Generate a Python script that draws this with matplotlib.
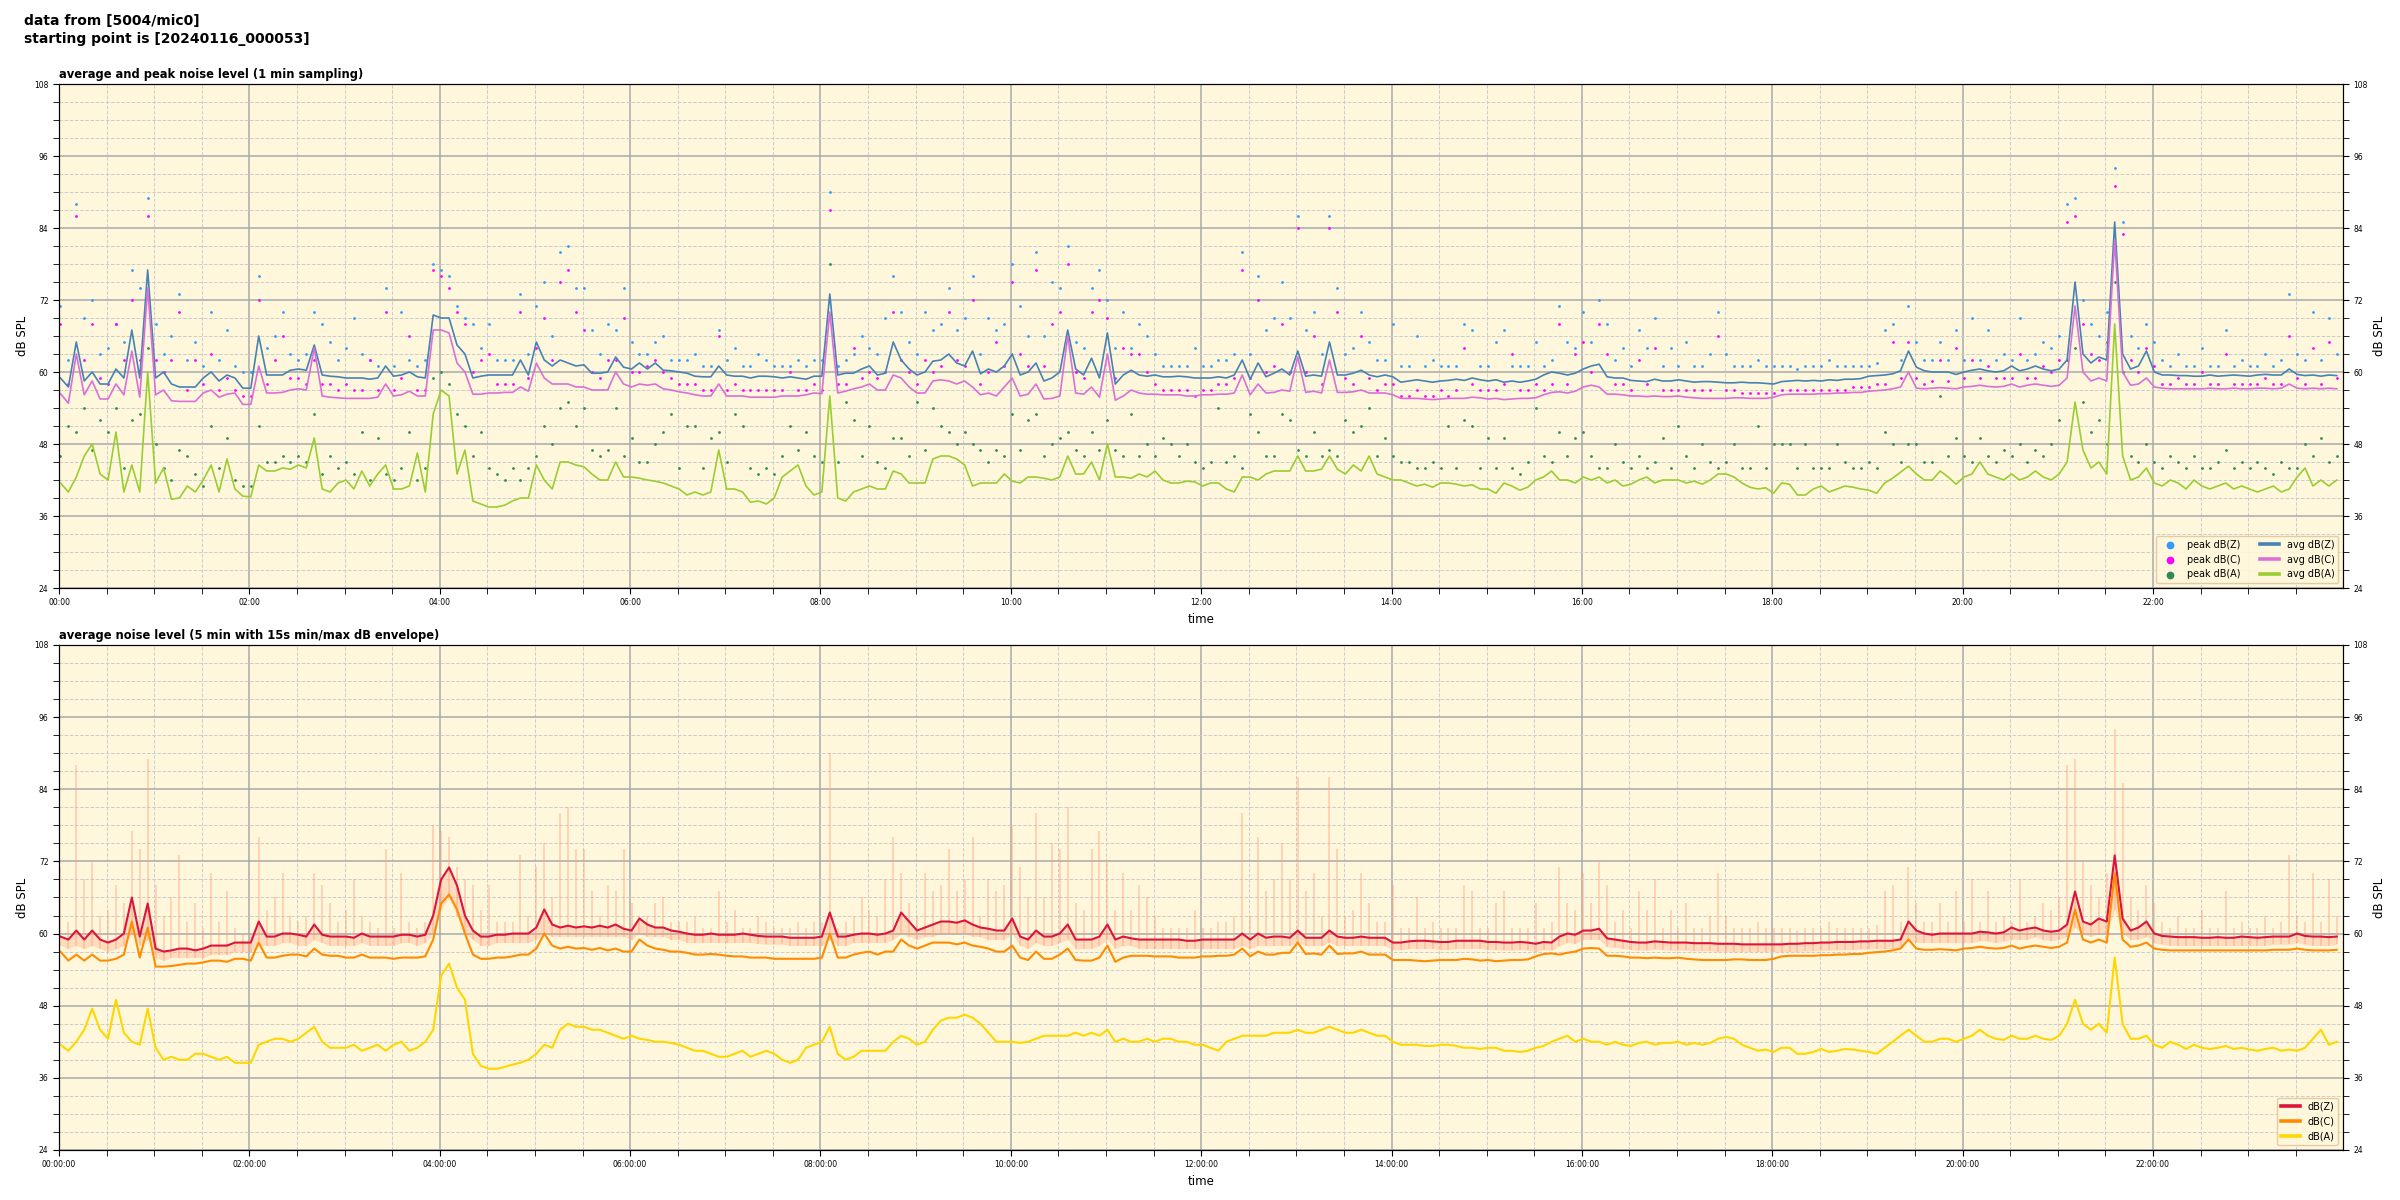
import matplotlib
matplotlib.use("Agg")
import matplotlib.pyplot as plt
import matplotlib.dates as mdates
from matplotlib.ticker import MultipleLocator
import numpy as np
import pandas as pd

# 5 min samples, one row per hour (12 values)
avg_z = [
    59, 57.5, 65, 58.5, 60, 58, 58, 60.5, 59, 67, 59, 77,
    59, 60, 58, 57.5, 57.5, 57.5, 59, 60, 58.5, 59.5, 59, 57.3,
    57.3, 66, 59.5, 59.5, 59.5, 60.3, 60.5, 60.3, 64.5, 59.5, 59.3, 59.2,
    59, 59, 59, 58.8, 59, 61, 59.3, 59.5, 60, 59.2, 59, 69.5,
    69, 69, 64.5, 63, 59, 59.3, 59.5, 59.5, 59.5, 59.5, 62, 59.5,
    65, 62, 61, 62, 61.5, 61, 61.2, 59.8, 59.8, 60, 62.5, 60.8,
    60.5, 61.5, 60.5, 61.5, 60.3, 60.2, 60, 59.8, 59.3, 59.2, 59.2, 61,
    59.5, 59.3, 59.3, 59, 59.3, 59.3, 59.2, 59, 59.2, 59, 58.8, 59.3,
    59.3, 73, 59.5, 59.8, 59.8, 60.5, 61, 59.5, 59.8, 65, 62, 60.5,
    59.5, 60, 61.8, 62, 63, 61.5, 61, 63.5, 59.7, 60.5, 60, 61,
    63, 59.5, 60, 61.5, 58.5, 59, 60, 67, 60.5, 59.5, 62.3, 59,
    66.5, 58, 59.5, 60.3, 59.5, 59.3, 59.5, 59.2, 59.2, 59.3, 59.2, 59,
    59, 59, 59.2, 59, 59.5, 62, 58.8, 61.5, 59.2, 59.8, 60.5, 59.5,
    63.5, 59.3, 59.5, 59.3, 65, 59.5, 59.5, 59.8, 60.3, 59.5, 59.2, 59.5,
    59.2, 58.3, 58.5, 58.7, 58.5, 58.3, 58.5, 58.6, 58.8, 58.6, 59, 58.7,
    58.5, 58.7, 58.3, 58.5, 58.3, 58.5, 58.8, 59.5, 60, 59.8, 59.5, 59.8,
    60.5, 61, 61.3, 59.2, 59, 59, 58.6, 58.5, 58.4, 58.8, 58.5, 58.5,
    58.7, 58.5, 58.3, 58.4, 58.4, 58.3, 58.2, 58.2, 58.3, 58.2, 58.2, 58.1,
    58, 58.4, 58.5, 58.6, 58.5, 58.6, 58.5, 58.7, 58.6, 58.8, 58.8, 58.9,
    59.3, 59.4, 59.5, 59.7, 60.2, 63.5, 60.8, 60.2, 60, 60, 60, 59.6,
    60, 60.3, 60.5, 60.2, 60, 60.2, 61, 60.2, 60.5, 61, 60.5, 60.2,
    60.5, 62, 75, 63, 61.5, 62.5, 62, 85, 63, 60.5, 61, 63.5,
    60, 59.5, 59.5, 59.4, 59.4, 59.3, 59.3, 59.5, 59.3, 59.4, 59.5, 59.4,
    59.3, 59.5, 59.6, 59.5, 59.5, 60.5, 59.6, 59.4, 59.5, 59.3, 59.5, 59.4,
]
avg_c = [
    56.4, 54.8, 63, 56.2, 58.5, 55.5, 55.5, 58, 56.2, 63.5, 55.8, 74,
    56.2, 57, 55.2, 55.1, 55.1, 55.1, 56.5, 57, 55.8, 56.3, 56.5, 54.6,
    54.6, 61, 56.5, 56.5, 56.6, 57, 57.2, 57, 64, 56, 55.8, 55.7,
    55.6, 55.6, 55.6, 55.6, 55.8, 58, 56, 56.2, 56.8, 56, 56, 67,
    67, 66.5, 61.5, 60, 56.3, 56.3, 56.5, 56.5, 56.6, 56.6, 57.5, 56.8,
    61.5, 59, 58, 58, 58, 57.5, 57.5, 57, 57, 57, 60, 58,
    57.5, 58, 57.8, 58, 57.2, 57, 56.7, 56.5, 56.2, 56, 56, 58,
    56, 56, 56, 55.8, 55.8, 55.8, 55.8, 56, 56, 56, 56.2, 56.5,
    56.4, 70, 56.5, 56.8, 57.2, 57.5, 58, 57, 57, 59.5, 59, 57.5,
    56.5, 56.5, 58.5, 58.7, 58.5, 58, 58.5, 57.5, 56.2, 56.5, 56, 57.5,
    59, 56, 56.3, 58, 55.5, 55.6, 56, 66, 56.5, 56.3, 57.5, 55.8,
    63, 55.3, 56, 57, 56.5, 56.3, 56.3, 56.2, 56.2, 56.2, 56, 56,
    56.2, 56.2, 56.3, 56.3, 56.5, 59.5, 56.2, 58, 56.5, 56.6, 57, 56.8,
    62.5, 56.6, 56.8, 56.5, 62, 56.6, 56.6, 56.7, 57, 56.5, 56.5, 56.5,
    56.2, 55.6, 55.6, 55.6, 55.5, 55.4, 55.5, 55.6, 55.6, 55.6, 55.8, 55.7,
    55.5, 55.6, 55.4, 55.5, 55.6, 55.6, 55.7, 56.2, 56.6, 56.7, 56.5, 56.8,
    57.5, 57.8, 57.5, 56.3, 56.3, 56.2, 56, 56, 55.9, 56, 55.9, 55.9,
    56, 55.8, 55.7, 55.6, 55.6, 55.6, 55.6, 55.7, 55.7, 55.6, 55.6, 55.6,
    55.8, 56.2, 56.3, 56.3, 56.3, 56.3, 56.4, 56.4, 56.5, 56.5, 56.6, 56.6,
    56.8, 56.9, 57, 57.2, 57.5, 60, 57.3, 57.2, 57.3, 57.4, 57.3, 57.2,
    57.5, 57.6, 57.8, 57.6, 57.5, 57.6, 58, 57.5, 57.8, 58, 57.8, 57.6,
    57.8, 59, 71, 60, 58.5, 59, 58.5, 82, 60, 57.8, 58, 59,
    57.5, 57.3, 57.2, 57.2, 57.2, 57.2, 57.2, 57.3, 57.2, 57.2, 57.3, 57.2,
    57.2, 57.3, 57.3, 57.2, 57.3, 58, 57.3, 57.2, 57.3, 57.2, 57.3, 57.2,
]
avg_a = [
    41.5, 40, 42.5, 46, 48, 43, 42, 50, 40, 44.5, 40, 60,
    41.5, 44, 38.8, 39, 41, 40, 42, 44.5, 40, 45.5, 40.5, 39.3,
    39.2, 44.5, 43.5, 43.5, 44, 43.8, 44.5, 44, 49, 40.5, 40, 41.5,
    42, 40.5, 43.5, 41, 43, 44.5, 40.5, 40.5, 41, 46.5, 40, 53,
    57, 56, 43, 47, 38.5, 38, 37.5, 37.5, 37.8, 38.5, 39, 39,
    44.5, 42, 40.5, 45, 45, 44.5, 44.2, 43, 42, 42, 45, 42.5,
    42.5, 42.3, 42, 41.8, 41.5, 41, 40.5, 39.5, 40, 39.5, 40, 47,
    40.5, 40.5, 40, 38.3, 38.5, 38, 39, 42.5, 43.5, 44.5, 41, 39.5,
    40, 56, 39, 38.5, 40, 40.5, 41, 40.5, 40.5, 43.5, 43, 41.5,
    41.5, 41.5, 45.5, 46, 46, 45.5, 44.5, 41, 41.5, 41.5, 41.5, 43,
    41.8, 41.5, 42.5, 42.5, 42.3, 42, 42.5, 46, 43, 43, 45, 42,
    48, 42.5, 42.5, 42.3, 43, 42.5, 43.5, 42, 41.5, 41.5, 41.8, 41.7,
    41, 41.5, 41.5, 40.5, 40, 42.5, 42.5, 42, 43, 43.5, 43.5, 43.5,
    46, 43.5, 43.5, 43.8, 46, 43.8, 43, 44.5, 43.5, 46, 43, 42.5,
    42, 42, 41.5, 41, 41.3, 40.8, 41.5, 41.5, 41.3, 41, 41.2, 40.5,
    40.5, 39.8, 41.5, 41, 40.3, 40.8, 42, 42.5, 43.5, 42, 42, 41.5,
    42.5, 42, 42.5, 41.5, 42, 41, 41.3, 42, 42.5, 41.5, 42, 42,
    42, 41.5, 41.8, 41.3, 42, 43, 43, 42.5, 41.5, 40.8, 40.5, 40.7,
    39.8, 41.5, 41.3, 39.5, 39.5, 40.5, 41, 40, 40.5, 41, 40.8, 40.5,
    40.3, 39.8, 41.5, 42.3, 43.3, 44.3, 43, 42, 42, 43.5, 42.5, 41.3,
    42.5, 43, 45, 43, 42.5, 42, 43, 42, 42.5, 43.5, 42.5, 42,
    43, 45, 55, 47, 44, 45, 43, 68, 46, 42, 42.5, 44,
    41.5, 41, 42, 41.5, 40.5, 42, 41, 40.5, 41, 41.5, 40.5, 41,
    40.5, 40, 40.5, 41, 40, 40.5, 42.5, 44, 41, 42, 41, 42,
]
peak_z = [
    71, 62, 88, 69, 72, 63, 64, 68, 65, 77, 74, 89,
    68, 63, 66, 73, 62, 65, 61, 70, 62, 67, 61, 60,
    60, 76, 64, 66, 70, 63, 62, 63, 70, 68, 65, 62,
    64, 69, 63, 62, 61, 74, 61, 70, 62, 61, 62, 78,
    77, 76, 71, 69, 68, 64, 68, 62, 62, 62, 73, 63,
    71, 75, 66, 80, 81, 74, 74, 67, 63, 68, 67, 74,
    65, 63, 63, 65, 66, 62, 62, 62, 63, 61, 61, 67,
    62, 64, 61, 61, 63, 62, 61, 61, 61, 62, 61, 62,
    62, 90, 61, 62, 63, 66, 64, 63, 69, 76, 70, 65,
    63, 70, 67, 68, 74, 67, 69, 76, 63, 69, 67, 68,
    78, 71, 66, 80, 66, 75, 74, 81, 65, 64, 74, 77,
    72, 64, 70, 64, 68, 66, 63, 61, 61, 61, 61, 64,
    61, 61, 62, 62, 63, 80, 63, 76, 67, 69, 75, 69,
    86, 67, 70, 63, 86, 74, 63, 64, 70, 65, 62, 62,
    68, 61, 61, 66, 61, 62, 61, 61, 61, 68, 67, 61,
    61, 65, 67, 61, 61, 61, 65, 61, 62, 71, 65, 64,
    70, 65, 72, 68, 62, 64, 61, 67, 64, 69, 61, 64,
    61, 65, 61, 61, 63, 70, 63, 61, 61, 61, 62, 61,
    61, 61, 61, 60.5, 61, 61, 61, 62, 61, 61, 61, 61,
    61, 61.5, 67, 68, 62, 71, 65, 62, 62, 65, 62, 67,
    62, 69, 62, 67, 62, 63, 62, 69, 62, 63, 65, 64,
    66, 88, 89, 72, 68, 66, 70, 94, 85, 66, 64, 68,
    65, 62, 61, 63, 61, 61, 64, 61, 61, 67, 61, 62,
    61, 61, 63, 61, 62, 73, 63, 62, 70, 62, 69, 63,
]
peak_c = [
    68, 58, 86, 62, 68, 59, 58, 68, 62, 72, 62, 86,
    62, 60, 62, 70, 57, 62, 58, 63, 57, 59, 57, 56,
    56, 72, 58, 62, 66, 59, 59, 58, 62, 58, 58, 57,
    58, 57, 57, 62, 57, 70, 57, 59, 66, 57, 57, 77,
    76, 74, 70, 68, 60, 62, 63, 58, 58, 58, 70, 59,
    64, 69, 62, 75, 77, 70, 67, 60, 59, 62, 62, 69,
    60, 60, 61, 62, 60, 59, 58, 58, 58, 57, 57, 66,
    57, 58, 57, 57, 57, 57, 57, 57, 60, 57, 57, 58,
    57, 87, 58, 58, 64, 59, 60, 59, 60, 70, 62, 60,
    58, 62, 60, 61, 70, 62, 61, 72, 58, 60, 65, 61,
    75, 63, 61, 77, 61, 68, 70, 78, 60, 59, 70, 72,
    69, 59, 64, 63, 63, 60, 58, 57, 57, 57, 57, 56,
    57, 57, 58, 58, 59, 77, 59, 72, 60, 61, 68, 60,
    84, 60, 66, 58, 84, 70, 59, 58, 66, 59, 57, 58,
    58, 56, 56, 57, 56, 56, 57, 56, 57, 64, 58, 57,
    57, 57, 58, 63, 57, 57, 58, 57, 58, 68, 58, 63,
    65, 60, 68, 63, 58, 58, 57, 62, 58, 64, 57, 57,
    57, 57, 57, 57, 57, 66, 57, 57, 56.5, 56.5, 56.5, 56.5,
    56.5, 57, 57, 57, 57, 57, 57, 57, 57, 57, 57.5, 57.5,
    57.5, 58, 58, 65, 59, 65, 59, 58, 58.5, 62, 58.5, 64,
    59, 62, 59, 61, 59, 59, 59, 63, 59, 59, 61, 60,
    62, 85, 86, 68, 63, 62, 65, 91, 83, 62, 60, 64,
    61, 58, 58, 59, 58, 58, 60, 58, 58, 63, 58, 58,
    58, 58, 59, 58, 58, 66, 59, 58, 64, 58, 65, 59,
]
peak_a = [
    46, 51, 50, 54, 47, 52, 50, 54, 44, 52, 53, 64,
    48, 44, 42, 47, 46, 43, 41, 51, 44, 49, 42, 41,
    41, 51, 45, 45, 46, 45, 46, 45, 53, 43, 46, 44,
    45, 43, 50, 42, 49, 43, 42, 44, 50, 42, 44, 59,
    60, 58, 53, 51, 46, 50, 44, 43, 42, 44, 42, 44,
    46, 51, 48, 54, 55, 51, 54, 47, 46, 47, 54, 46,
    49, 45, 45, 48, 50, 53, 44, 51, 51, 44, 49, 50,
    45, 53, 51, 44, 43, 44, 43, 46, 51, 47, 50, 46,
    45, 78, 45, 55, 52, 46, 51, 45, 44, 49, 49, 46,
    55, 47, 54, 51, 50, 48, 50, 48, 47, 45, 47, 46,
    53, 47, 52, 53, 46, 48, 49, 50, 47, 46, 50, 47,
    52, 47, 46, 53, 46, 48, 46, 49, 48, 46, 48, 45,
    44, 45, 54, 45, 46, 44, 53, 50, 46, 46, 53, 52,
    47, 46, 50, 46, 47, 46, 52, 50, 51, 54, 46, 49,
    46, 45, 45, 44, 44, 45, 44, 51, 44, 52, 51, 44,
    49, 44, 49, 44, 43, 45, 54, 46, 45, 50, 46, 49,
    50, 46, 44, 44, 48, 45, 44, 46, 44, 45, 49, 44,
    51, 46, 44, 48, 45, 44, 45, 48, 44, 44, 51, 44,
    48, 48, 48, 44, 48, 44, 44, 44, 48, 45, 44, 44,
    45, 44, 50, 48, 45, 48, 48, 45, 45, 56, 46, 49,
    46, 45, 49, 46, 45, 47, 46, 48, 45, 47, 46, 48,
    52, 62, 64, 55, 50, 52, 48, 75, 60, 46, 45, 48,
    45, 44, 46, 45, 44, 46, 44, 44, 45, 47, 44, 45,
    44, 45, 44, 43, 45, 44, 44, 48, 46, 49, 45, 46,
]

# lower panel: 5 min averages and the 15 s minimum of dB(Z)
db_z = [
    59.5, 59, 60.5, 59, 60.5, 59, 58.5, 59, 60, 66, 59.5, 65,
    57.5, 57, 57.2, 57.5, 57.5, 57.2, 57.5, 58, 58, 58, 58.5, 58.5,
    58.5, 62, 59.5, 59.5, 60, 60, 59.8, 59.5, 61.5, 59.8, 59.5, 59.5,
    59.5, 59.3, 60, 59.5, 59.5, 59.5, 59.5, 59.8, 59.8, 59.5, 59.8, 63,
    69, 71, 68, 63, 60.5, 59.5, 59.5, 59.8, 59.8, 60, 60, 60,
    61, 64, 61.5, 61, 61.3, 61, 61.2, 61, 61.3, 61, 61.5, 60.8,
    60.5, 62.5, 61.5, 61, 61, 60.5, 60.3, 60, 59.8, 59.8, 60, 59.8,
    59.8, 59.8, 60, 59.8, 59.6, 59.5, 59.5, 59.5, 59.3, 59.3, 59.3, 59.3,
    59.5, 63.5, 59.5, 59.5, 59.8, 60, 60, 59.8, 60, 60.5, 63.5, 62,
    60.5, 61, 61.5, 62, 62, 61.8, 62.2, 61.5, 61, 60.8, 60.5, 60.5,
    62.5, 59.5, 59, 60.5, 59.5, 59.5, 60, 61.5, 59, 59, 59, 59.5,
    61.5, 59, 59.5, 59.2, 59, 59, 59, 59, 59, 59, 58.8, 58.8,
    59, 59, 59, 59, 59, 60, 59, 60, 59.3, 59.5, 59.5, 59.3,
    60.5, 59.3, 59.3, 59.3, 60.5, 59.5, 59.3, 59.3, 59.5, 59.3, 59.3, 59.3,
    58.5, 58.5, 58.7, 58.8, 58.8, 58.7, 58.6, 58.6, 58.8, 58.8, 58.8, 58.8,
    58.6, 58.6, 58.5, 58.5, 58.6, 58.5, 58.3, 58.6, 58.5, 59.5, 60, 59.8,
    60.5, 60.5, 60.8, 59.2, 59, 58.8, 58.6, 58.5, 58.5, 58.7, 58.6, 58.5,
    58.5, 58.5, 58.4, 58.4, 58.4, 58.3, 58.3, 58.3, 58.2, 58.2, 58.2, 58.2,
    58.2, 58.2, 58.3, 58.3, 58.4, 58.4, 58.5, 58.5, 58.6, 58.6, 58.6, 58.7,
    58.7, 58.8, 58.8, 58.8, 59, 62, 60.5, 60, 59.8, 60, 60, 60,
    60, 60, 60.3, 60.2, 60, 60.2, 61, 60.5, 60.8, 61, 60.5, 60.3,
    60.5, 61.5, 67, 62, 61.5, 62.5, 62, 73, 62.5, 60.5, 61, 62,
    60, 59.6, 59.5, 59.4, 59.4, 59.4, 59.3, 59.3, 59.4, 59.3, 59.3, 59.5,
    59.4, 59.3, 59.4, 59.5, 59.5, 59.5, 60, 59.6, 59.5, 59.5, 59.4, 59.5,
]
db_c = [
    57, 55.5, 56.5, 55.5, 56.5, 55.5, 55.5, 55.8, 56.5, 62, 56, 61,
    54.5, 54.5, 54.6, 54.8, 55, 55, 55.2, 55.5, 55.5, 55.3, 55.8, 55.8,
    55.5, 58.5, 56, 56, 56.3, 56.5, 56.5, 56.2, 57.5, 56.5, 56.3, 56.3,
    56, 56, 56.5, 56, 56, 56, 55.8, 56, 56, 56, 56.2, 59,
    65, 66.5, 64, 60, 56.5, 55.8, 55.8, 56, 56, 56.2, 56.5, 56.5,
    57.5, 60, 58, 57.5, 57.8, 57.5, 57.6, 57.3, 57.6, 57.2, 57.5, 57,
    57, 59, 58, 57.5, 57.3, 57, 57, 56.8, 56.5, 56.5, 56.6, 56.5,
    56.3, 56.2, 56.2, 56, 56, 56, 55.8, 55.8, 55.8, 55.8, 55.8, 55.8,
    56, 60, 56, 56, 56.5, 56.8, 57, 56.5, 57, 57, 59, 58,
    57.5, 58, 58.5, 58.5, 58.5, 58.2, 58.5, 58, 57.8, 57.5, 57, 57,
    58, 56, 55.6, 57, 55.8, 55.8, 56.5, 57.5, 55.6, 55.5, 55.5, 56,
    58, 55.3, 56, 56.3, 56.3, 56.3, 56.2, 56.2, 56.2, 56, 56, 56,
    56.2, 56.2, 56.3, 56.3, 56.5, 57.5, 56.2, 57, 56.5, 56.5, 56.8, 56.8,
    58.5, 56.6, 56.7, 56.5, 58, 56.6, 56.7, 56.7, 57, 56.5, 56.5, 56.5,
    55.6, 55.6, 55.6, 55.5, 55.4, 55.5, 55.6, 55.6, 55.6, 55.8, 55.7, 55.5,
    55.6, 55.4, 55.5, 55.6, 55.6, 55.7, 56.2, 56.6, 56.7, 56.5, 56.8, 57,
    57.5, 57.6, 57.5, 56.3, 56.3, 56.2, 56, 56, 55.9, 56, 55.9, 55.9,
    56, 55.8, 55.7, 55.6, 55.6, 55.6, 55.6, 55.7, 55.7, 55.6, 55.6, 55.6,
    55.8, 56.2, 56.3, 56.3, 56.3, 56.3, 56.4, 56.4, 56.5, 56.5, 56.6, 56.6,
    56.8, 56.9, 57, 57.2, 57.5, 59, 57.5, 57.3, 57.3, 57.4, 57.3, 57.2,
    57.5, 57.6, 57.8, 57.6, 57.5, 57.6, 58, 57.5, 57.8, 58, 57.8, 57.6,
    57.8, 58.5, 64, 59, 58.5, 59, 58.5, 70, 59, 57.8, 58, 58.5,
    57.5, 57.3, 57.2, 57.2, 57.2, 57.2, 57.2, 57.2, 57.2, 57.2, 57.2, 57.2,
    57.2, 57.2, 57.2, 57.3, 57.3, 57.3, 57.5, 57.3, 57.2, 57.2, 57.2, 57.3,
]
db_a = [
    41.5, 40.5, 42, 44, 47.5, 44, 42.5, 49, 43.5, 42, 41.5, 47.5,
    41, 39, 39.5, 39, 39, 40, 40, 39.5, 39, 39.5, 38.5, 38.5,
    38.5, 41.5, 42, 42.5, 42.5, 42, 42.5, 43.5, 44.5, 42, 41, 41,
    41, 41.5, 40.5, 41, 41.5, 40.5, 41.5, 42, 40.5, 41, 42, 44,
    53, 55, 51, 49, 40, 38, 37.5, 37.5, 37.8, 38.2, 38.5, 39,
    40, 41.5, 41, 44, 45, 44.5, 44.5, 44, 44, 43.5, 43, 42.5,
    43, 42.5, 42.3, 42, 42, 41.8, 41.5, 41, 40.5, 40.5, 40, 39.5,
    39.5, 40, 40.5, 39.5, 40, 40.5, 40, 39, 38.5, 39, 41, 41.5,
    42, 44.5, 40, 39, 39.5, 40.5, 40.5, 40.5, 40.5, 42, 43, 42.5,
    41.5, 42, 44, 45.5, 46, 46, 46.5, 46, 45, 43.5, 42, 42,
    42, 41.8, 42, 42.5, 43, 43, 43, 43, 43.5, 43, 43.5, 43,
    44, 42, 42.5, 42, 42, 42.5, 42, 42.5, 42.5, 42, 42, 41.5,
    41.5, 41, 40.5, 42, 42.5, 43, 43, 43, 43, 43.5, 43.5, 43.5,
    44, 43.5, 43.5, 44, 44.5, 44, 43.5, 43.5, 44, 43.5, 43, 43,
    42, 41.5, 41.5, 41.5, 41.3, 41.3, 41.5, 41.5, 41.3, 41, 41, 40.8,
    41, 41, 40.5, 40.5, 40.3, 40.5, 41, 41.3, 42, 42.5, 43, 42,
    42.5, 42, 42, 41.5, 42, 41.5, 41.3, 41.8, 42, 41.5, 41.8, 41.8,
    42, 41.5, 41.8, 41.5, 41.8, 42.5, 42.8, 42.5, 41.5, 41, 40.5, 40.7,
    40.3, 41, 41, 40, 40, 40.3, 40.8, 40.3, 40.5, 40.8, 40.7, 40.5,
    40.3, 40, 41, 42, 43, 44, 43, 42, 42, 42.5, 42.5, 42,
    42.5, 43, 44, 43, 42.5, 42.3, 43, 42.5, 42.5, 43, 42.5, 42.3,
    43, 45, 49, 45, 44, 45, 43.5, 56, 45, 42.5, 42.5, 43,
    41.5, 41, 42, 41.5, 40.8, 41.5, 41, 40.8, 41, 41.3, 40.8, 41,
    40.7, 40.5, 40.8, 41, 40.5, 40.7, 40.5, 41, 42.5, 44, 41.5, 42,
]
env_lo = [
    58, 57.5, 58, 57.5, 58, 57.5, 57, 57.5, 58, 60, 58, 59,
    56, 55.5, 56, 56, 56, 56, 56, 56.5, 56.5, 56.5, 57, 57,
    57, 58, 58, 58, 58.5, 58.5, 58, 58, 59, 58.5, 58, 58,
    58, 58, 58.5, 58, 58, 58, 58, 58.5, 58.5, 58, 58.5, 60,
    64, 66, 63, 60, 59, 58, 58, 58.5, 58.5, 58.5, 58.5, 58.5,
    59, 60, 59.5, 59.5, 59.5, 59.5, 59.5, 59.5, 59.5, 59.5, 59.5, 59.5,
    59, 60, 59.5, 59.5, 59.5, 59, 59, 58.5, 58.5, 58.5, 58.5, 58.5,
    58.5, 58.5, 58.5, 58.5, 58.3, 58.2, 58.2, 58.2, 58, 58, 58, 58,
    58, 59, 58, 58, 58.5, 58.5, 58.5, 58.5, 58.5, 59, 60, 59.5,
    59, 59.5, 59.5, 60, 60, 60, 60, 59.5, 59.5, 59, 59, 59,
    60, 58, 57.5, 58.5, 58, 58, 58.5, 59, 57.5, 57.5, 57.5, 58,
    59, 57.5, 58, 58, 57.5, 57.5, 57.5, 57.5, 57.5, 57.5, 57.5, 57.5,
    57.5, 57.5, 57.5, 57.5, 57.5, 58, 57.5, 58, 58, 58, 58, 58,
    58.5, 58, 58, 58, 58.5, 58, 58, 58, 58, 58, 58, 58,
    57.3, 57.3, 57.5, 57.5, 57.5, 57.5, 57.3, 57.3, 57.5, 57.5, 57.5, 57.5,
    57.3, 57.3, 57.2, 57.2, 57.3, 57.2, 57, 57.3, 57.2, 58, 58.5, 58.3,
    59, 59, 59, 57.8, 57.7, 57.5, 57.3, 57.2, 57.2, 57.4, 57.3, 57.2,
    57.2, 57.2, 57.1, 57.1, 57.1, 57, 57, 57, 57, 57, 57, 57,
    57, 57, 57, 57, 57.1, 57.1, 57.2, 57.2, 57.3, 57.3, 57.3, 57.4,
    57.4, 57.5, 57.5, 57.5, 57.7, 59, 58.5, 58.5, 58.5, 58.5, 58.5, 58.5,
    58.5, 58.5, 58.8, 58.7, 58.5, 58.7, 59, 59, 59, 59.5, 59, 58.8,
    59, 59.5, 61, 60, 59.5, 60, 60, 64, 60, 59, 59, 59.5,
    58.5, 58.2, 58, 58, 58, 58, 58, 58, 58, 58, 58, 58,
    58, 58, 58, 58.2, 58.2, 58.2, 58.5, 58.2, 58, 58, 58, 58.2,
]

source = "5004/mic0"
start = "20240116_000053"

t = pd.date_range("2024-01-16 00:00:53", periods=len(avg_z), freq="5min")
day0 = pd.Timestamp("2024-01-16 00:00")
day1 = pd.Timestamp("2024-01-16 23:59:53")

bg = "#fff7dc"

fig = plt.figure(figsize=(24, 12), dpi=100)
fig.text(0.0102, 0.988, f"data from [{source}]\nstarting point is [{start}]",
         fontsize=10, fontweight="bold", va="top", ha="left", linespacing=1.35)

ax1 = fig.add_axes([0.0246, 0.51, 0.9517, 0.42])
ax2 = fig.add_axes([0.0246, 0.0417, 0.9517, 0.4208])


def style_axes(ax, fmt):
    ax.set_facecolor(bg)
    ax.set_axisbelow(True)
    ax.set_ylim(24, 108)
    ax.set_xlim(day0, day1)
    ax.yaxis.set_major_locator(MultipleLocator(12))
    ax.yaxis.set_minor_locator(MultipleLocator(3))
    ax.xaxis.set_major_locator(mdates.HourLocator(byhour=range(0, 24, 2)))
    ax.xaxis.set_minor_locator(mdates.MinuteLocator(byminute=[0, 30]))
    ax.xaxis.set_major_formatter(mdates.DateFormatter(fmt))
    ax.grid(which="major", color="#aaaaaa", lw=1.1, ls="-")
    ax.grid(which="minor", color="#cccccc", lw=0.7, ls="--")
    ax.tick_params(which="both", labelsize=5.5, length=4)
    ax.set_xlabel("time", fontsize=8.5)
    ax.set_ylabel("dB SPL", fontsize=8.5)
    tw = ax.twinx()
    tw.set_ylim(24, 108)
    tw.yaxis.set_major_locator(MultipleLocator(12))
    tw.yaxis.set_minor_locator(MultipleLocator(3))
    tw.tick_params(which="both", labelsize=5.5, length=4)
    tw.set_ylabel("dB SPL", fontsize=8.5)


style_axes(ax1, "%H:%M")
style_axes(ax2, "%H:%M:%S")

# top: 1 min average and peak levels
ax1.set_title("average and peak noise level (1 min sampling)", loc="left",
              fontsize=8.3, fontweight="bold", pad=4)
ax1.scatter(t, peak_z, s=4, color="#3399ff", lw=0, label="peak dB(Z)", zorder=2)
ax1.scatter(t, peak_c, s=4, color="magenta", lw=0, label="peak dB(C)", zorder=2)
ax1.scatter(t, peak_a, s=4, color="seagreen", lw=0, label="peak dB(A)", zorder=2)
ax1.plot(t, avg_z, color="steelblue", lw=1.2, label="avg dB(Z)", zorder=3)
ax1.plot(t, avg_c, color="orchid", lw=1.2, label="avg dB(C)", zorder=3)
ax1.plot(t, avg_a, color="yellowgreen", lw=1.2, label="avg dB(A)", zorder=3)
leg1 = ax1.legend(loc="lower right", ncol=2, fontsize=6.9, markerscale=2.8,
                  facecolor=bg, edgecolor="#e2c89a", framealpha=0.9)
for ln in leg1.get_lines():
    ln.set_linewidth(2.6)

# bottom: 5 min average with min/max envelope
ax2.set_title("average noise level (5 min with 15s min/max dB envelope)", loc="left",
              fontsize=8.3, fontweight="bold", pad=4)
ax2.fill_between(t, env_lo, db_z, color="lightsalmon", alpha=0.3, lw=0, zorder=1)
ax2.vlines(t, env_lo, peak_z, color="lightsalmon", alpha=0.45, lw=1.3, zorder=1)
ax2.plot(t, db_z, color="crimson", lw=1.5, label="dB(Z)", zorder=3)
ax2.plot(t, db_c, color="darkorange", lw=1.5, label="dB(C)", zorder=3)
ax2.plot(t, db_a, color="gold", lw=1.5, label="dB(A)", zorder=3)
leg2 = ax2.legend(loc="lower right", fontsize=6.9, facecolor=bg,
                  edgecolor="#e2c89a", framealpha=0.9)
for ln in leg2.get_lines():
    ln.set_linewidth(2.6)

fig.savefig("out.png", dpi=100)
